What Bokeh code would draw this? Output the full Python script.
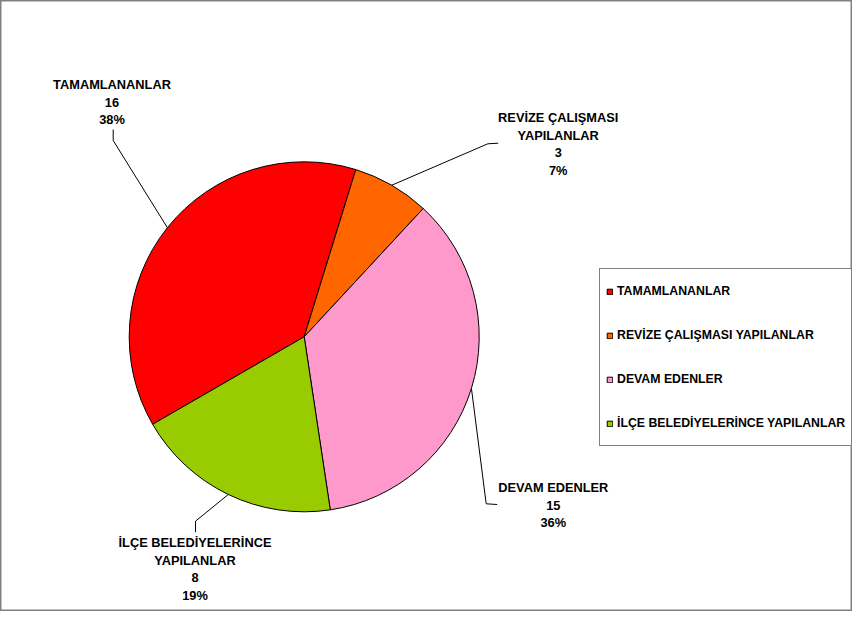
import numpy as np
from bokeh.plotting import figure
from bokeh.models import ColumnDataSource, Range1d, Legend, LegendItem
from bokeh.embed import file_html
from bokeh.resources import INLINE
from bokeh.core.properties import value

# ---------------- data ----------------
categories = ["TAMAMLANANLAR", "REVİZE ÇALIŞMASI YAPILANLAR",
              "DEVAM EDENLER", "İLÇE BELEDİYELERİNCE YAPILANLAR"]
label_names = ["TAMAMLANANLAR", "REVİZE ÇALIŞMASI\nYAPILANLAR",
               "DEVAM EDENLER", "İLÇE BELEDİYELERİNCE\nYAPILANLAR"]
counts = [16, 3, 15, 8]
colors = ["#FF0000", "#FF6600", "#FF99CC", "#99CC00"]

# ---------------- layout (pixels, top-left origin) ----------------
W, H = 852, 611
CX, CY = 303.7, 336.3
R = 175.0
FIRST_ANGLE = 240.0  # clockwise from 12 o'clock
label_pos = [(111.5, 101.7), (557.7, 143.3), (552.8, 504.6), (194.5, 568.4)]
leader_bends = [[(112.7, 140.0), (112.7, 129.0)],
                [(487.3, 143.3), (497.7, 142.7)],
                [(485.7, 503.3), (496.7, 504.0)],
                [(195.0, 520.7), (195.0, 531.7)]]

FONT_NAME = "Liberation Sans"
FONT = value(FONT_NAME)

total = sum(counts)
fracs = np.array(counts) / total
ends = FIRST_ANGLE + np.cumsum(fracs) * 360.0
starts = ends - fracs * 360.0
mids = (starts + ends) / 2.0

def sy(y):
    return -y

src = ColumnDataSource(dict(
    x=[CX] * len(counts), y=[sy(CY)] * len(counts),
    start=np.radians(90.0 - starts), end=np.radians(90.0 - ends),
    color=colors, cat=categories,
))

p = figure(width=W, height=H, output_backend="svg", toolbar_location=None,
           x_axis_type=None, y_axis_type=None,
           x_range=Range1d(0, W), y_range=Range1d(-H, 0),
           min_border=0, min_border_left=0, min_border_right=0,
           min_border_top=0, min_border_bottom=0)
p.grid.visible = False
p.background_fill_color = "white"
p.border_fill_color = "white"
p.outline_line_color = "#808080"
p.outline_line_width = 2

wr = p.wedge(x="x", y="y", radius=R, start_angle="start", end_angle="end",
             direction="clock", fill_color="color", line_color="black",
             line_width=1, source=src)

# leader lines
for i, m in enumerate(mids):
    a = np.radians(m)
    ex = CX + R * np.sin(a)
    ey = CY - R * np.cos(a)
    xs = [ex] + [b[0] for b in leader_bends[i]]
    ys = [sy(ey)] + [sy(b[1]) for b in leader_bends[i]]
    p.line(xs, ys, line_color="black", line_width=1)

# data labels
texts = [f"{n}\n{c}\n{round(c / total * 100)}%" for n, c in zip(label_names, counts)]
p.text(x=[q[0] for q in label_pos], y=[sy(q[1]) for q in label_pos], text=texts,
       text_align="center", text_baseline="middle", text_font=FONT,
       text_font_style="bold", text_font_size="12.8px", text_line_height=1.17,
       text_color="black")

legend = Legend(items=[LegendItem(label=categories[i], renderers=[wr], index=i)
                       for i in range(len(categories))],
                location=(599, 165), padding=6, spacing=12, label_height=32,
                glyph_height=7, glyph_width=7, label_standoff=4, margin=0,
                border_line_color="black", border_line_width=1,
                background_fill_color="white", background_fill_alpha=1.0,
                label_text_font=FONT_NAME, label_text_font_style="bold",
                label_text_font_size="12.3px", label_text_color="black")
p.add_layout(legend)

open("out.html", "w").write(file_html(p, INLINE))
